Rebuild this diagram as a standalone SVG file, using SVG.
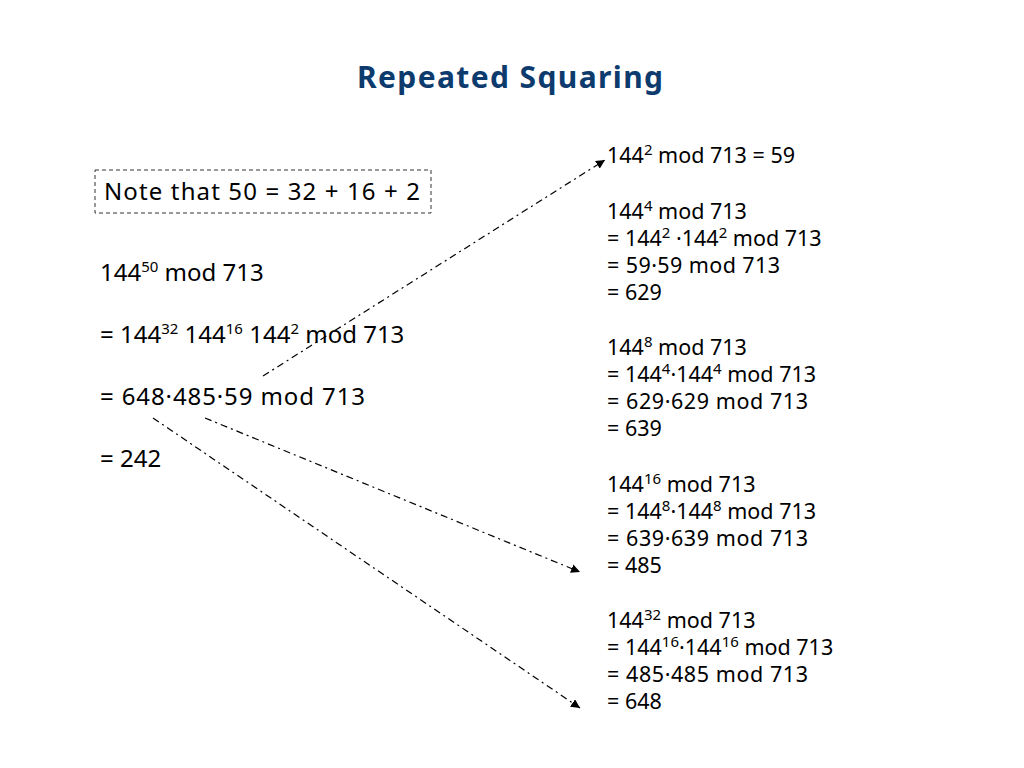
<svg xmlns="http://www.w3.org/2000/svg" width="1024" height="768" viewBox="0 0 1024 768">
<defs>
<style>
.t{font-family:"Comic Sans MS","Noto Sans","DejaVu Sans",sans-serif;fill:#000}
.l{font-size:24px}
.r{font-size:21.5px}
.s{font-size:15px}
.title{font-family:"Comic Sans MS","Noto Sans","DejaVu Sans",sans-serif;font-size:30px;font-weight:bold;fill:#0d3b6e}
.con{stroke:#000;stroke-width:1.2;fill:none;stroke-dasharray:7,4,2,4}
</style>
<marker id="ah" viewBox="0 0 10 10" refX="10" refY="5" markerWidth="9" markerHeight="9" markerUnits="userSpaceOnUse" orient="auto">
<path d="M0,0 L10,5 L0,10 z" fill="#000"/>
</marker>
</defs>
<rect width="1024" height="768" fill="#fff"/>
<text class="title" x="357" y="88" textLength="306" lengthAdjust="spacing">Repeated Squaring</text>

<g id="note">
<rect x="95" y="170" width="336" height="43" fill="none" stroke="#333" stroke-width="1" stroke-dasharray="4,3"/>
<text class="t l" x="104" y="200" textLength="316" lengthAdjust="spacing">Note that 50 = 32 + 16 + 2</text>
</g>

<g id="left">
<text class="t l" x="100" y="281">144<tspan class="s" dy="-9">50</tspan><tspan dy="9"> mod 713</tspan></text>
<text class="t l" x="100" y="343">= 144<tspan class="s" dy="-9">32</tspan><tspan dy="9"> 144</tspan><tspan class="s" dy="-9">16</tspan><tspan dy="9"> 144</tspan><tspan class="s" dy="-9">2</tspan><tspan dy="9"> mod 713</tspan></text>
<text class="t l" x="100" y="405" textLength="265" lengthAdjust="spacing">= 648·485·59 mod 713</text>
<text class="t l" x="100" y="467">= 242</text>
</g>

<g id="sq2">
<text class="t r" x="607" y="163">144<tspan class="s" dy="-8">2</tspan><tspan dy="8"> mod 713 = 59</tspan></text>
</g>
<g id="sq4">
<text class="t r" x="607" y="219">144<tspan class="s" dy="-8">4</tspan><tspan dy="8"> mod 713</tspan></text>
<text class="t r" x="607" y="246">= 144<tspan class="s" dy="-8">2</tspan><tspan dy="8"> ·144</tspan><tspan class="s" dy="-8">2</tspan><tspan dy="8"> mod 713</tspan></text>
<text class="t r" x="607" y="273" textLength="173" lengthAdjust="spacing">= 59·59 mod 713</text>
<text class="t r" x="607" y="300">= 629</text>
</g>
<g id="sq8">
<text class="t r" x="607" y="355">144<tspan class="s" dy="-8">8</tspan><tspan dy="8"> mod 713</tspan></text>
<text class="t r" x="607" y="382">= 144<tspan class="s" dy="-8">4</tspan><tspan dy="8">·144</tspan><tspan class="s" dy="-8">4</tspan><tspan dy="8"> mod 713</tspan></text>
<text class="t r" x="607" y="409" textLength="201" lengthAdjust="spacing">= 629·629 mod 713</text>
<text class="t r" x="607" y="436">= 639</text>
</g>
<g id="sq16">
<text class="t r" x="607" y="492">144<tspan class="s" dy="-8">16</tspan><tspan dy="8"> mod 713</tspan></text>
<text class="t r" x="607" y="519">= 144<tspan class="s" dy="-8">8</tspan><tspan dy="8">·144</tspan><tspan class="s" dy="-8">8</tspan><tspan dy="8"> mod 713</tspan></text>
<text class="t r" x="607" y="546" textLength="201" lengthAdjust="spacing">= 639·639 mod 713</text>
<text class="t r" x="607" y="573">= 485</text>
</g>
<g id="sq32">
<text class="t r" x="607" y="628">144<tspan class="s" dy="-8">32</tspan><tspan dy="8"> mod 713</tspan></text>
<text class="t r" x="607" y="655">= 144<tspan class="s" dy="-8">16</tspan><tspan dy="8">·144</tspan><tspan class="s" dy="-8">16</tspan><tspan dy="8"> mod 713</tspan></text>
<text class="t r" x="607" y="682" textLength="201" lengthAdjust="spacing">= 485·485 mod 713</text>
<text class="t r" x="607" y="709">= 648</text>
</g>

<g id="connectors">
<line class="con" x1="263" y1="376" x2="605" y2="160" marker-end="url(#ah)"/>
<line class="con" x1="205" y1="418" x2="580" y2="572" marker-end="url(#ah)"/>
<line class="con" x1="153" y1="418" x2="580" y2="708" marker-end="url(#ah)"/>
</g>
</svg>
